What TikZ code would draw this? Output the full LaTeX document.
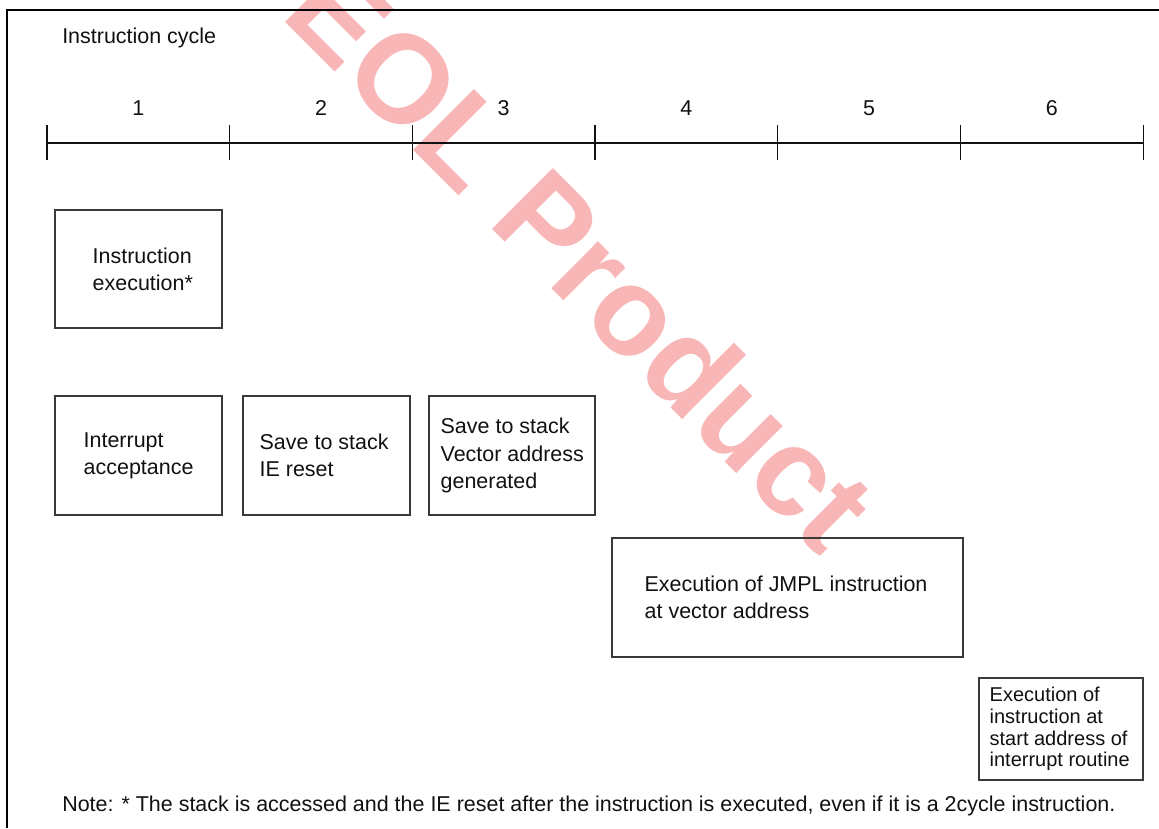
\documentclass[tikz,border=0pt]{standalone}
\usepackage{fontspec}
\setmainfont{Liberation Sans}
\usetikzlibrary{positioning,calc,fit}
\definecolor{Ink}{HTML}{111111}
\definecolor{Frame}{HTML}{3A3A3A}
\definecolor{Stamp}{HTML}{F9B6B6}
\tikzset{
  cyclebox/.style={draw=Frame,line width=0.9pt,inner sep=0pt},
  boxtext/.style={anchor=west,align=left,inner sep=0pt,font=\fontsize{16.1}{20.3}\selectfont,text=Ink},
  smalltext/.style={boxtext,font=\fontsize{15}{16.3}\selectfont},
  plaintext/.style={inner sep=0pt,font=\fontsize{16.1}{20.3}\selectfont,text=Ink},
  tickline/.style={draw=Ink,line width=0.8pt}
}

\begin{document}
\begin{tikzpicture}[x=0.75pt,y=-0.75pt]
  \useasboundingbox (0,0) rectangle (1159,828);
  % watermark
  \node[rotate=-45,text=Stamp,inner sep=0pt,font=\fontsize{94}{94}\selectfont\bfseries] (stamp) at (582,256) {EOL Product};
  \draw[line width=1.6pt] (7,828) -- (7,10) -- (1159,10);

  \node[plaintext,anchor=west] (title) at (62,38) {Instruction cycle};

  % time axis
  \foreach \i in {0,...,6}
    \coordinate (t\i) at (47+182.67*\i,143);
  \draw[tickline] (t0) -- (t6);
  \draw[tickline,line width=1.2pt] ($(t3)+(12,0)$) -- (t6);
  \foreach \i in {0,...,6}
    \draw[tickline] ($(t\i)+(0,-18)$) -- ($(t\i)+(0,17)$);
  \foreach \i in {1,...,6}
    \node[plaintext] (n\i) at (47+182.67*\i-91.3,108) {\i};

  % boxes
  \node[cyclebox,fit={(55,210) (222,328)}] (exec) {};
  \node[boxtext] (execlbl) at ($(exec.west)+(38,0)$) {Instruction\\execution*};

  \node[cyclebox,fit={(55,396) (222,515)}] (accept) {};
  \node[boxtext] (acceptlbl) at ($(accept.west)+(29,0)$) {Interrupt\\acceptance};

  \node[cyclebox,fit={(243,396) (410,515)}] (save) {};
  \node[boxtext] (savelbl) at ($(save.west)+(17,0)$) {Save to stack\\IE reset};

  \node[cyclebox,fit={(429,396) (595,515)}] (vector) {};
  \node[boxtext] (vectorlbl) at ($(vector.west)+(12,0)$) {Save to stack\\Vector address\\generated};

  \node[cyclebox,fit={(612,538) (963,657)}] (jmpl) {};
  \node[boxtext] (jmpllbl) at ($(jmpl.west)+(33,0)$) {Execution of JMPL instruction\\at vector address};

  \node[cyclebox,fit={(979,678) (1143,780)}] (routine) {};
  \node[smalltext] (routinelbl) at ($(routine.west)+(11,0)$) {Execution of\\instruction at\\start address of\\interrupt routine};

  \node[plaintext,anchor=west] (note) at (62,806) {Note: * The stack is accessed and the IE reset after the instruction is executed, even if it is a 2cycle instruction.};
\end{tikzpicture}
\end{document}
